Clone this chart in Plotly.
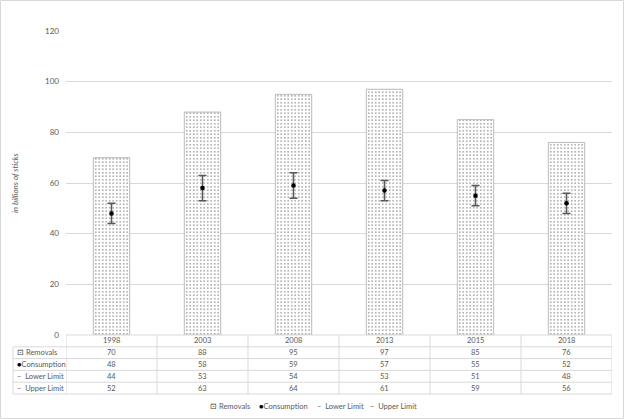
import plotly.graph_objects as go

years = ["1998", "2003", "2008", "2013", "2015", "2018"]
removals = [70, 88, 95, 97, 85, 76]
consumption = [48, 58, 59, 57, 55, 52]
lower_limit = [44, 53, 54, 53, 51, 48]
upper_limit = [52, 63, 64, 61, 59, 56]
row_labels = ["Removals", "Consumption", "Lower Limit", "Upper Limit"]
y_ticks = [0, 20, 40, 60, 80, 100, 120]

W, H = 624, 419
ML, MR, MT, MB = 66, 12, 31, 84
PW, PH = W - ML - MR, H - MT - MB
FONT = "Lato"
GRAY = "#595959"


def py(p):
    return (H - MB - p) / PH


def px(p):
    return (p - ML) / PW


fig = go.Figure()
fig.add_trace(go.Bar(
    x=years, y=removals, width=0.4, name="Removals",
    marker=dict(color="white", line=dict(color="#a6a6a6", width=0.75),
                pattern=dict(shape=".", fgcolor="#333333", bgcolor="white",
                             size=3.5, solidity=0.18)),
))
fig.add_trace(go.Scatter(
    x=years, y=consumption, mode="markers", name="Consumption",
    marker=dict(color="black", size=4.5),
    error_y=dict(type="data", symmetric=False,
                 array=[u - c for u, c in zip(upper_limit, consumption)],
                 arrayminus=[c - l for c, l in zip(consumption, lower_limit)],
                 color=GRAY, thickness=1.5, width=4),
))

shapes = []
annotations = []
# chart border
shapes.append(dict(type="rect", xref="paper", yref="paper",
                   x0=px(0.5), x1=px(W - 0.5), y0=py(H - 0.5), y1=py(0.5),
                   line=dict(color="#d9d9d9", width=1), layer="below"))
# table
bounds = [335, 346.8, 358.6, 370.4, 382.2, 394.0]
for i, b in enumerate(bounds):
    x0 = 0 if i == 0 else px(13)
    shapes.append(dict(type="line", xref="paper", yref="paper",
                       x0=x0, x1=1, y0=py(b), y1=py(b),
                       line=dict(color="#d9d9d9", width=1)))
shapes.append(dict(type="line", xref="paper", yref="paper",
                   x0=px(13), x1=px(13), y0=py(bounds[1]), y1=py(bounds[-1]),
                   line=dict(color="#d9d9d9", width=1)))
for i in range(len(years) + 1):
    shapes.append(dict(type="line", xref="x", yref="paper",
                       x0=i - 0.5, x1=i - 0.5, y0=py(bounds[0]), y1=py(bounds[-1]),
                       line=dict(color="#d9d9d9", width=1)))

centers = [(bounds[i] + bounds[i + 1]) / 2 for i in range(5)]
tf = dict(family=FONT, size=7.5, color=GRAY)
for j, yr in enumerate(years):
    annotations.append(dict(x=j, xref="x", y=py(centers[0]), yref="paper",
                            xanchor="center", yanchor="middle",
                            text=yr, showarrow=False, font=tf))
    for r, series in enumerate([removals, consumption, lower_limit, upper_limit]):
        annotations.append(dict(x=j, xref="x", y=py(centers[r + 1]), yref="paper",
                                xanchor="center", yanchor="middle",
                                text=str(series[j]), showarrow=False, font=tf))

keys = ['<span style="color:#404040">⊡</span> ',
        '<span style="color:black">●</span>',
        '–  ',
        '–  ']
for r, lab in enumerate(row_labels):
    annotations.append(dict(x=px(15), xref="paper", y=py(centers[r + 1]), yref="paper",
                            xanchor="left", yanchor="middle",
                            text=keys[r] + lab, showarrow=False, font=tf))

# legend
leg_x = [208, 257, 315, 368]
for r, lab in enumerate(row_labels):
    annotations.append(dict(x=px(leg_x[r]), xref="paper", y=py(406), yref="paper",
                            xanchor="left", yanchor="middle",
                            text=keys[r] + lab, showarrow=False, font=tf))

# y title
annotations.append(dict(x=px(15), xref="paper", y=0.5, yref="paper",
                        xanchor="center", yanchor="middle",
                        text="<i>in billions of sticks</i>", textangle=-90,
                        showarrow=False, font=dict(family=FONT, size=8, color=GRAY)))

fig.update_layout(
    width=W, height=H, margin=dict(l=ML, r=MR, t=MT, b=MB),
    paper_bgcolor="white", plot_bgcolor="white",
    showlegend=False, bargap=0.6,
    font=dict(family=FONT, size=8, color=GRAY),
    xaxis=dict(type="category", range=[-0.5, 5.5], showticklabels=False,
               showgrid=False, zeroline=False, showline=False, fixedrange=True),
    yaxis=dict(range=[0, 120], tickvals=y_ticks, showgrid=True, gridcolor="#d9d9d9",
               gridwidth=1, zeroline=False, showline=False,
               tickfont=dict(family=FONT, size=8, color=GRAY),
               ticklabelstandoff=6),
    shapes=shapes, annotations=annotations,
)

fig.write_html("out.html", config={"displayModeBar": False},
               post_script="document.body.style.margin='0';document.body.style.padding='0';")
